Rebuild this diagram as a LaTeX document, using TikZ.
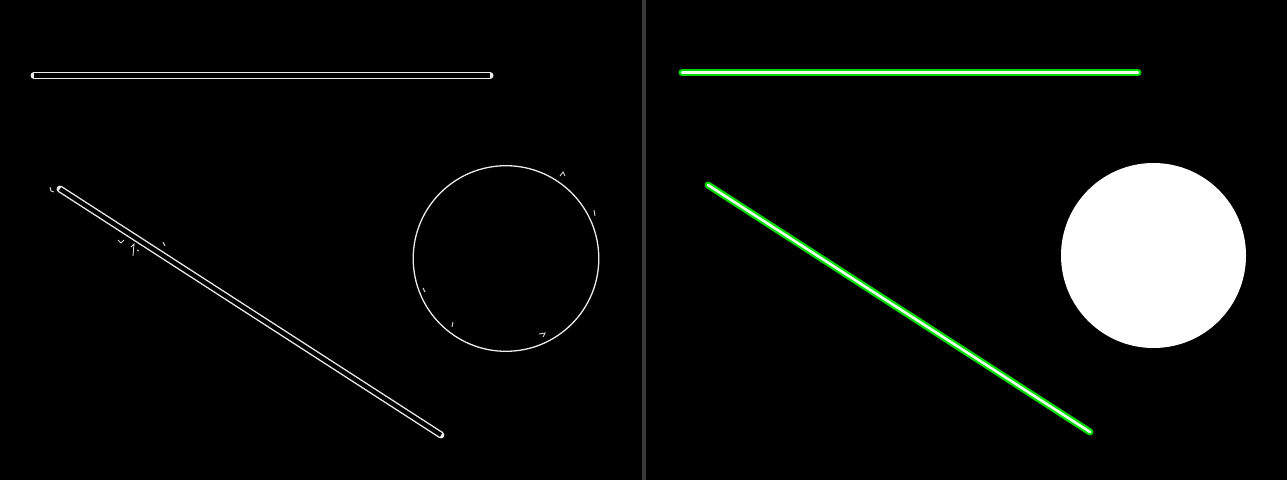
\documentclass[tikz,border=0pt]{standalone}
\begin{document}
\begin{tikzpicture}[x=1pt,y=-1pt,
  edgeout/.style={line width=7pt,draw=white!92!black,line cap=round},
  edgein/.style={line width=4.2pt,draw=black,line cap=butt},
  greenline/.style={line width=7pt,draw=green!85!black,line cap=round},
  greencore/.style={line width=2.6pt,draw=white!92!green,line cap=round},
  noise/.style={line width=0.9pt,draw=white!85!black}]
\useasboundingbox (0,0) rectangle (1287,480);
\fill[black] (0,0) rectangle (1287,480);
% divider
\fill[black!78] (642,0) rectangle (646,480);
% left panel: edge outlines
\coordinate (h1) at (34,75.5);
\coordinate (h2) at (490,75.5);
\draw[edgeout] (h1) -- (h2);
\draw[edgein] (h1) -- (h2);
\coordinate (d1) at (60,189);
\coordinate (d2) at (441,435);
\draw[edgeout] (d1) -- (d2);
\draw[edgein] (d1) -- (d2);
\draw[white!92!black,line width=1.3pt] (506,258.5) circle (92.8);
% small noise strokes
\draw[noise] (50,187) -- (51,191) -- (54,192);
\draw[noise] (118,240) -- (121,243) -- (124,240);
\draw[noise] (131,247) -- (134,244) -- (133,256);
\draw[noise] (137,250) -- (139,251);
\draw[noise] (163,242) -- (165,246);
\draw[noise] (560,176) -- (563,172) -- (565,176);
\draw[noise] (594,210) -- (595,216);
\draw[noise] (423,288) -- (425,292);
\draw[noise] (453,322) -- (452,327);
\draw[noise] (539,334) -- (545,333) -- (543,337);
% right panel: detected lines and filled circle
\coordinate (g1) at (682,72.5);
\coordinate (g2) at (1138,72.5);
\draw[greenline] (g1) -- (g2);
\draw[greencore] (g1) -- (g2);
\coordinate (k1) at (708,185);
\coordinate (k2) at (1090,432);
\draw[greenline] (k1) -- (k2);
\draw[greencore] (k1) -- (k2);
\fill[white] (1153.5,255.5) circle (92.5);
\end{tikzpicture}
\end{document}
